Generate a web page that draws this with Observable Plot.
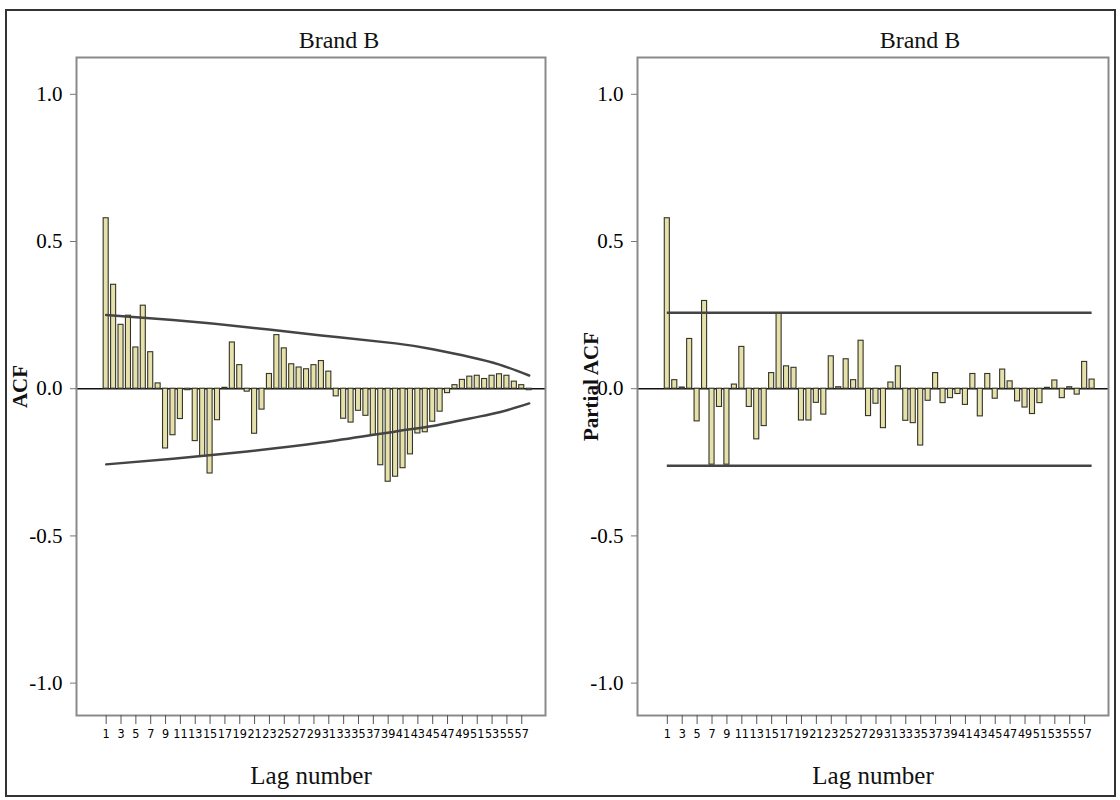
<!DOCTYPE html>
<html><head><meta charset="utf-8">
<script src="https://cdn.jsdelivr.net/npm/d3@7"></script>
<script src="https://cdn.jsdelivr.net/npm/@observablehq/plot@0.6"></script>
<style>
html,body{margin:0;padding:0;background:#fff;}
#wrap{position:relative;width:1120px;height:800px;overflow:hidden;background:#fff;}
#border{position:absolute;left:5px;top:9px;width:1111px;height:788px;border:2px solid #333;box-sizing:border-box;}
.panel{position:absolute;top:0;}
.panel svg [aria-label="text"] text{font-family:'Liberation Serif','DejaVu Serif',serif;}
.panel svg [aria-label="y-axis tick label"] text{font-family:'Liberation Serif','DejaVu Serif',serif;}
</style></head><body>
<div id="wrap"><div id="border"></div><div id="left" class="panel" style="left:0px"></div><div id="right" class="panel" style="left:560px"></div></div>
<script>
// ---- data ----
const lags = [1,2,3,4,5,6,7,8,9,10,11,12,13,14,15,16,17,18,19,20,21,22,23,24,25,26,27,28,29,30,
  31,32,33,34,35,36,37,38,39,40,41,42,43,44,45,46,47,48,49,50,51,52,53,54,55,56,57,58];
const acfValues = [0.579,0.353,0.217,0.248,0.140,0.282,0.124,0.018,-0.203,-0.158,
  -0.103,-0.005,-0.178,-0.231,-0.288,-0.107,0.003,0.157,0.080,-0.010,
  -0.153,-0.071,0.050,0.182,0.137,0.083,0.072,0.066,0.080,0.094,
  0.058,-0.026,-0.102,-0.115,-0.075,-0.092,-0.157,-0.260,-0.316,-0.299,
  -0.270,-0.223,-0.152,-0.148,-0.112,-0.078,-0.015,0.012,0.030,0.041,
  0.044,0.033,0.044,0.049,0.044,0.024,0.012,-0.005];
const pacfValues = [0.579,0.029,0.004,0.169,-0.111,0.298,-0.258,-0.062,-0.258,0.014,
  0.142,-0.062,-0.172,-0.127,0.053,0.256,0.076,0.071,-0.108,-0.108,
  -0.048,-0.088,0.110,0.005,0.100,0.029,0.163,-0.093,-0.051,-0.134,
  0.021,0.076,-0.109,-0.117,-0.193,-0.041,0.053,-0.049,-0.032,-0.018,
  -0.055,0.050,-0.094,0.050,-0.034,0.065,0.025,-0.043,-0.064,-0.086,
  -0.049,0.003,0.028,-0.032,0.005,-0.020,0.091,0.031];
// ACF confidence limits read at these lags
const boundLags = [1,10,20,30,40,45,50,54,58];
const acfUpper = [0.250,0.233,0.209,0.181,0.154,0.134,0.108,0.082,0.045];
const acfLower = [-0.257,-0.238,-0.213,-0.183,-0.145,-0.127,-0.101,-0.080,-0.050];
// PACF confidence limits
const pacfLimitLags = [1,58];
const pacfUpper = 0.258;
const pacfLower = -0.262;
const xTickLabels = [1,3,5,7,9,11,13,15,17,19,21,23,25,27,29,31,33,35,37,39,41,43,45,47,49,51,53,55,57];
const yTickLabels = [-1.0,-0.5,0.0,0.5,1.0];
const panelTitle = "Brand B";
const xTitle = "Lag number";

const serif = "'Liberation Serif','DejaVu Serif',serif";
const narrow = "'DejaVu Sans Condensed','Liberation Sans Narrow','Liberation Sans',sans-serif";

function panel({values, yLabel, boundMarks, marginLeft, marginRight, titleDx, yLabelDx}) {
  const data = lags.map((l, i) => ({lag: l, value: values[i]}));
  return Plot.plot({
    width: 560, height: 800,
    marginLeft, marginRight, marginTop: 57, marginBottom: 85,
    style: {background: "transparent", overflow: "visible", fontFamily: serif},
    x: {domain: [-3, 60.2]},
    y: {domain: [-1.11, 1.125]},
    marks: [
      Plot.ruleY([0], {stroke: "#111", strokeWidth: 1.6}),
      Plot.rectY(data, {x1: d => d.lag - 0.34, x2: d => d.lag + 0.34, y1: 0, y2: "value",
        fill: "#e6e1aa", stroke: "#333328", strokeWidth: 1.1}),
      ...boundMarks,
      Plot.frame({stroke: "#8a8a8a", strokeWidth: 2}),
      Plot.axisY({ticks: yTickLabels, tickFormat: d => d.toFixed(1), tickSize: 6, tickPadding: 8,
        fontSize: 21, fontFamily: serif, label: null, stroke: "#777"}),
      Plot.axisX({ticks: xTickLabels, tickFormat: d => String(d), tickSize: 9, tickPadding: 5,
        fontSize: 12.5, fontFamily: narrow, letterSpacing: "-0.6px",
        label: null, stroke: "#555"}),
      Plot.text([panelTitle], {text: d => d, frameAnchor: "top", dy: -17, dx: titleDx, lineAnchor: "middle",
        fontSize: 24, fontFamily: serif, fill: "#111"}),
      Plot.text([xTitle], {text: d => d, frameAnchor: "bottom", dy: 60, lineAnchor: "middle",
        fontSize: 25, fontFamily: serif, fill: "#111"}),
      Plot.text([yLabel], {text: d => d, frameAnchor: "left", dx: yLabelDx, rotate: -90,
        textAnchor: "middle", lineAnchor: "middle",
        fontSize: 21, fontWeight: "bold", fontFamily: serif, fill: "#111"})
    ]
  });
}

const upperData = boundLags.map((l, i) => ({lag: l, v: acfUpper[i]}));
const lowerData = boundLags.map((l, i) => ({lag: l, v: acfLower[i]}));
const acfBounds = [
  Plot.line(upperData, {x: "lag", y: "v", curve: "natural", stroke: "#444", strokeWidth: 2.5}),
  Plot.line(lowerData, {x: "lag", y: "v", curve: "natural", stroke: "#444", strokeWidth: 2.5})
];
const pacfBounds = [
  Plot.ruleY([pacfUpper], {x1: pacfLimitLags[0], x2: pacfLimitLags[1], stroke: "#444", strokeWidth: 2.5}),
  Plot.ruleY([pacfLower], {x1: pacfLimitLags[0], x2: pacfLimitLags[1], stroke: "#444", strokeWidth: 2.5})
];

document.getElementById("left").append(panel({values: acfValues, yLabel: "ACF", boundMarks: acfBounds,
  marginLeft: 76, marginRight: 15, titleDx: 28, yLabelDx: -56}));
document.getElementById("right").append(panel({values: pacfValues, yLabel: "Partial ACF", boundMarks: pacfBounds,
  marginLeft: 77, marginRight: 12, titleDx: 47, yLabelDx: -46}));
</script>
</body></html>
